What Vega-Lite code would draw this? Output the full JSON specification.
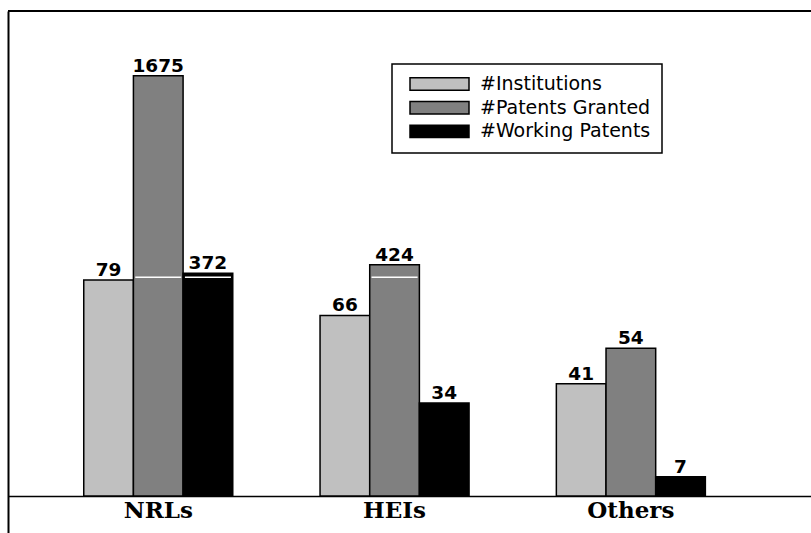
{
  "$schema": "https://vega.github.io/schema/vega-lite/v6.json",
  "width": 803,
  "height": 485,
  "autosize": {"type": "none"},
  "padding": {"left": 8, "top": 11, "right": 0, "bottom": 37},
  "background": "white",
  "config": {
    "view": {"stroke": null},
    "axisX": {"domainColor": "black", "domainWidth": 1.5, "ticks": false, "grid": false, "labelFont": "DejaVu Serif", "labelFontWeight": "bold", "labelFontSize": 23, "labelColor": "black", "labelPadding": 3, "labelAngle": 0},
    "axisY": {"domainColor": "black", "domainWidth": 2, "ticks": false, "labels": false, "grid": false}
  },
  "data": {
    "values": [
      {"group": "NRLs", "series": "#Institutions", "value": 79},
      {"group": "NRLs", "series": "#Patents Granted", "value": 1675},
      {"group": "NRLs", "series": "#Working Patents", "value": 372},
      {"group": "HEIs", "series": "#Institutions", "value": 66},
      {"group": "HEIs", "series": "#Patents Granted", "value": 424},
      {"group": "HEIs", "series": "#Working Patents", "value": 34},
      {"group": "Others", "series": "#Institutions", "value": 41},
      {"group": "Others", "series": "#Patents Granted", "value": 54},
      {"group": "Others", "series": "#Working Patents", "value": 7}
    ]
  },
  "layer": [
    {
      "mark": {"type": "bar", "stroke": "black", "strokeWidth": 1.5, "opacity": 1},
      "encoding": {
        "x": {"field": "group", "type": "nominal", "sort": null, "title": null,
              "scale": {"paddingInner": 0.3694, "paddingOuter": 0.3838, "align": 0.4176}},
        "xOffset": {"field": "series", "type": "nominal", "sort": ["#Institutions", "#Patents Granted", "#Working Patents"],
                    "scale": {"paddingInner": 0, "paddingOuter": 0}},
        "y": {"field": "value", "type": "quantitative", "title": null,
              "scale": {"domain": [-13.53, 0, 80, 372, 424, 1675, 2103], "range": [522, 485, 266.2, 262.3, 253.7, 64.7, 0], "nice": false, "zero": false, "clamp": false},
              "axis": {"orient": "left", "domain": true, "ticks": false, "labels": false, "title": null}},
        "color": {"field": "series", "type": "nominal", "sort": ["#Institutions", "#Patents Granted", "#Working Patents"],
                  "scale": {"range": ["#c0c0c0", "#808080", "#000000"]},
                  "legend": {
                    "title": null, "orient": "none", "legendX": 384, "legendY": 53,
                    "padding": 11, "rowPadding": 4.7, "clipHeight": 18, "symbolOffset": 6, "labelOffset": 10,
                    "labelFont": "DejaVu Sans", "labelFontSize": 19, "labelColor": "black", "labelLimit": 400,
                    "symbolType": "M-1,-0.21H1V0.21H-1Z", "symbolSize": 3481,
                    "symbolStrokeColor": "black", "symbolStrokeWidth": 1.5, "symbolOpacity": 1,
                    "strokeColor": "black", "fillColor": "white",
                    "encode": {"legend": {"update": {"strokeWidth": {"value": 1.5}}}}
                  }}
      }
    },
    {
      "transform": [{"filter": "datum.value > 80"}],
      "mark": {"type": "tick", "orient": "horizontal", "color": "white", "thickness": 1.5, "size": 46, "opacity": 1},
      "encoding": {
        "x": {"field": "group", "type": "nominal", "sort": null},
        "xOffset": {"field": "series", "type": "nominal", "sort": ["#Institutions", "#Patents Granted", "#Working Patents"]},
        "y": {"datum": 80}
      }
    },
    {
      "mark": {"type": "text", "font": "DejaVu Sans", "fontWeight": "bold", "fontSize": 18.5, "color": "black", "baseline": "alphabetic", "dy": -4},
      "encoding": {
        "x": {"field": "group", "type": "nominal", "sort": null},
        "xOffset": {"field": "series", "type": "nominal", "sort": ["#Institutions", "#Patents Granted", "#Working Patents"]},
        "y": {"field": "value", "type": "quantitative"},
        "text": {"field": "value", "type": "quantitative"}
      }
    },
    {
      "mark": {"type": "rule", "color": "black", "strokeWidth": 2},
      "encoding": {"y": {"datum": 2103}}
    }
  ]
}
